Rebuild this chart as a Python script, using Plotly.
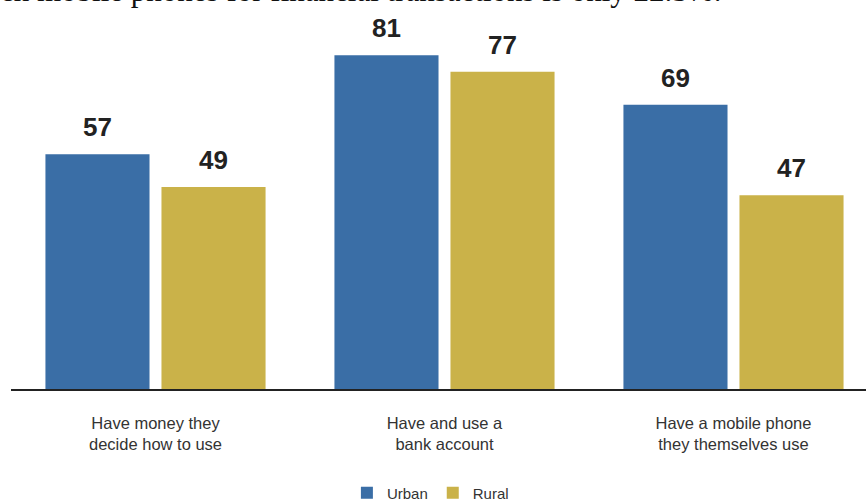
import plotly.graph_objects as go

categories = ["Have money they<br>decide how to use",
              "Have and use a<br>bank account",
              "Have a mobile phone<br>they themselves use"]
urban = [57, 81, 69]
rural = [49, 77, 47]
series_names = ["Urban", "Rural"]
colors = ["#3a6ea6", "#cab249"]
top_text = "ch mobile phones for financial transactions is only 22.5%."

xpos = list(range(len(categories)))
bargap = 0.197
groupgap = 0.103
slot = (1 - bargap) / 2

fig = go.Figure()
for name, vals, col in zip(series_names, [urban, rural], colors):
    fig.add_trace(go.Bar(x=xpos, y=vals, name=name, marker=dict(color=col, line=dict(width=0)),
                         hoverinfo="skip"))

annotations = []
for k, vals in enumerate([urban, rural]):
    off = (k - 0.5) * slot
    for i, v in enumerate(vals):
        annotations.append(dict(x=xpos[i] + off, y=v, xref="x", yref="y", text=str(v),
                                showarrow=False, yanchor="middle", yshift=27,
                                font=dict(family="Liberation Sans, Arial, sans-serif", size=26,
                                          color="#222222", weight="bold")))

annotations.append(dict(x=(-2 - 11) / 855, y=(389 - 9.7) / 389, xref="paper", yref="paper",
                        xanchor="left", yanchor="bottom", text=top_text, showarrow=False,
                        font=dict(family="Liberation Serif, Times New Roman, serif", size=31,
                                  color="#111111")))

fig.update_layout(
    width=866, height=504,
    margin=dict(l=11, r=0, t=0, b=115),
    paper_bgcolor="white", plot_bgcolor="white",
    barmode="group", bargap=bargap, bargroupgap=groupgap,
    showlegend=True,
    legend=dict(orientation="h", xref="container", yref="container", x=0.497, xanchor="center",
                y=1 - 493 / 504, yanchor="middle",
                font=dict(family="Liberation Sans, Arial, sans-serif", size=15, color="#333333"),
                itemwidth=30, traceorder="normal"),
    annotations=annotations,
    font=dict(family="Liberation Sans, Arial, sans-serif"),
)
fig.update_xaxes(range=[-0.5, 2.4585], tickvals=xpos, ticktext=categories,
                 showline=True, linecolor="#222222", linewidth=2, showgrid=False,
                 zeroline=False, ticks="", ticklabelstandoff=18,
                 tickfont=dict(family="Liberation Sans, Arial, sans-serif", size=16.5, color="#333333"))
fig.update_yaxes(range=[0, 389 / 4.12], visible=False, showgrid=False, zeroline=False)

fig.write_html("out.html")
